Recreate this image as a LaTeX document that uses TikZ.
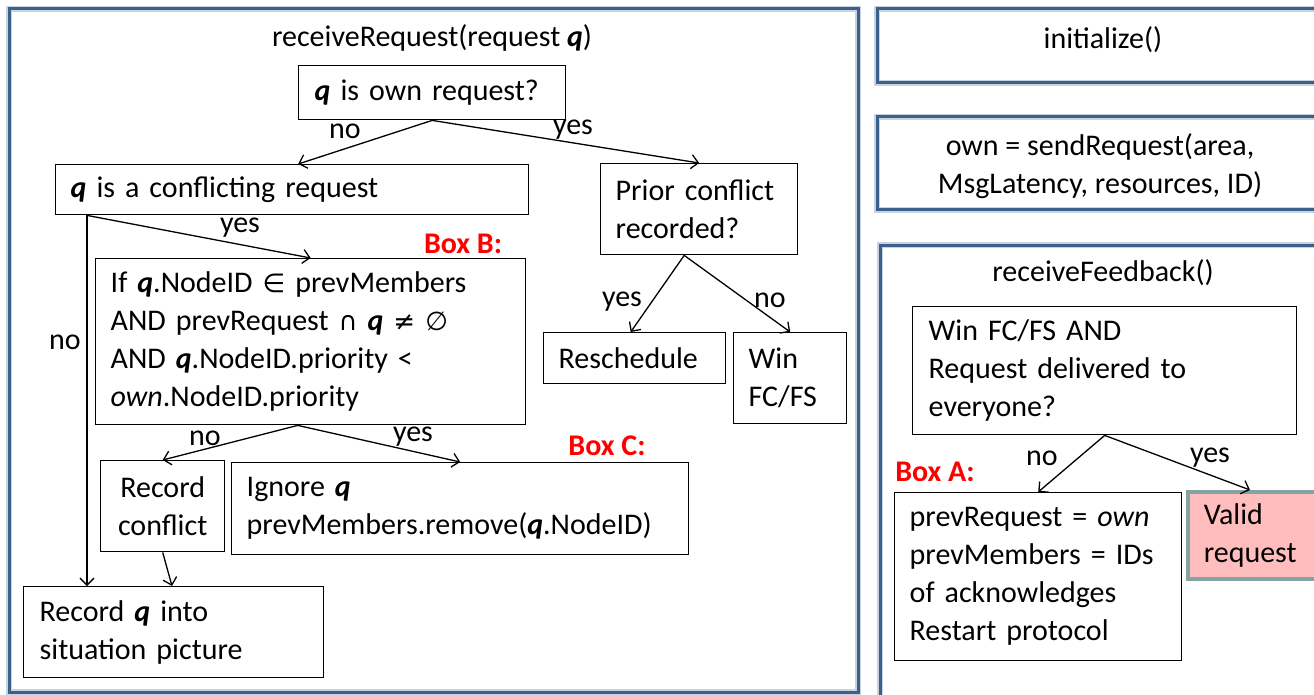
\documentclass[tikz,border=0pt]{standalone}
\usepackage{fontspec}
\setmainfont{Carlito}
\newfontfamily\symf{DejaVu Sans}
\usetikzlibrary{arrows.meta}
\definecolor{panelblue}{HTML}{3D5F8C}
\definecolor{panelhalo}{HTML}{C9D3E0}
\definecolor{labelred}{HTML}{FF0000}
\definecolor{validfill}{HTML}{FFBDBD}
\definecolor{validedge}{HTML}{86A3A3}
\newcommand{\qq}{\textbf{\textit{q}}}
\begin{document}
\begin{tikzpicture}[x=1pt,y=-1pt,
  every node/.style={font=\fontsize{30}{38}\selectfont},
  panel/.style={draw=panelblue, line width=3pt},
  box/.style={draw, line width=1.4pt, anchor=north west, inner xsep=15pt, inner ysep=0pt, align=left},
  flow/.style={line width=1.3pt, -{Straight Barb[length=7pt,width=14pt]}},
  lbl/.style={inner sep=0pt},
  tag/.style={text=labelred, font=\fontsize{30}{36}\selectfont\bfseries, inner sep=0pt},
  title/.style={inner sep=0pt, align=center}]
\hyphenpenalty=10000 \exhyphenpenalty=10000
\useasboundingbox (0,0) rectangle (1314,695);
\clip (0,0) rectangle (1314,695);
\fill[white] (0,0) rectangle (1314,695);

% outer panels
\draw[panelhalo, line width=6pt] (9,9) rectangle (858,692);
\draw[panel] (9,9) rectangle (858,692);
\draw[panelhalo, line width=6pt] (877,9) rectangle (1330,83);
\draw[panel] (877,9) rectangle (1330,83);
\draw[panelhalo, line width=6pt] (877,117) rectangle (1330,210);
\draw[panel] (877,117) rectangle (1330,210);
\draw[panelhalo, line width=6pt] (880,245) rectangle (1330,730);
\draw[panel] (880,245) rectangle (1330,730);

% panel titles
\node[title] (t1) at (432,38) {receiveRequest(request \qq)};
\node[title] (t2) at (1103,40) {initialize()};
\node[title] (t3) at (1100,166) {own = sendRequest(area,\\MsgLatency, resources, ID)};
\node[title] (t4) at (1103,273) {receiveFeedback()};

% flow boxes: receiveRequest
\node[box, text width=235pt, minimum height=54pt, inner xsep=16pt] (own) at (298,65) {\qq{} is own request?};
\node[box, text width=443pt, minimum height=50pt] (confl) at (55,164) {\qq{} is a conflicting request};
\node[box, text width=167pt, minimum height=91pt] (prior) at (600,163) {Prior conflict\\recorded?};
\node[box, text width=400pt, minimum height=166pt] (boxB) at (95,258) {If \qq.NodeID {\symf\fontsize{26}{38}\selectfont ∈} prevMembers\\AND prevRequest {\symf\fontsize{26}{38}\selectfont ∩} \qq{} {\symf\fontsize{26}{38}\selectfont ≠ ∅}\\AND \qq.NodeID.priority <\\\textit{own}.NodeID.priority};
\node[box, text width=152pt, minimum height=51pt] (resched) at (543,332) {Reschedule};
\node[box, text width=83pt, minimum height=91pt] (win) at (733,332) {Win\\FC/FS};
\node[box, text width=104pt, minimum height=91pt, inner xsep=10pt, align=center] (recconf) at (100,460) {Record\\conflict};
\node[box, text width=427pt, minimum height=92pt] (boxC) at (231,462) {Ignore \qq\\prevMembers.remove(\qq.NodeID)};
\node[box, text width=268pt, minimum height=91pt, inner xsep=16pt] (recq) at (23,586) {Record \qq{} into\\situation picture};

% flow boxes: receiveFeedback
\node[box, text width=352pt, minimum height=128pt, inner xsep=16pt] (feed) at (912,306) {Win FC/FS AND\\Request delivered to\\everyone?};
\node[box, text width=257pt, minimum height=168pt] (boxA) at (894,492) {prevRequest = \textit{own}\\prevMembers = IDs\\of acknowledges\\Restart protocol};

% connectors
\coordinate (cfork) at ([xshift=32pt]confl.south west);
\coordinate (bfork) at ([xshift=-13pt]boxB.south);
\coordinate (pfork) at ([xshift=-15pt]prior.south);
\draw[flow] (own.south) -- ([xshift=6pt]confl.north);
\draw[flow] (own.south) -- (prior.north);
\draw[flow] (cfork) -- (boxB.north);
\draw[flow] (cfork) -- (cfork |- recq.north);
\draw[flow] (bfork) -- (recconf.north);
\draw[flow] (bfork) -- (boxC.north);
\draw[flow] (recconf.south) -- ([xshift=149pt]recq.north west);
\draw[flow] (pfork) -- ([xshift=-4pt]resched.north);
\draw[flow] (pfork) -- (win.north);
\draw[flow] (feed.south) -- (boxA.north);

\node[box, draw=validedge, line width=3.5pt, fill=validfill, text width=140pt, minimum height=87pt, inner xsep=16pt] (valid) at (1186,490) {Valid\\request};
\draw[flow] (feed.south) -- ([xshift=64pt]valid.north west);

% branch labels
\node[lbl] (l1) at (345,131) {no};
\node[lbl] (l2) at (573,130) {yes};
\node[lbl] (l3) at (240,228) {yes};
\node[lbl] (l4) at (65,342) {no};
\node[lbl] (l5) at (205,438) {no};
\node[lbl] (l6) at (413,437) {yes};
\node[lbl] (l7) at (622,302) {yes};
\node[lbl] (l8) at (770,300) {no};
\node[lbl] (l9) at (1042,458) {no};
\node[lbl] (l10) at (1210,458) {yes};

% box tags
\node[tag] (tb) at (463,244) {Box B:};
\node[tag] (tc) at (607,446) {Box C:};
\node[tag] (ta) at (935,472) {Box A:};
\end{tikzpicture}
\end{document}
